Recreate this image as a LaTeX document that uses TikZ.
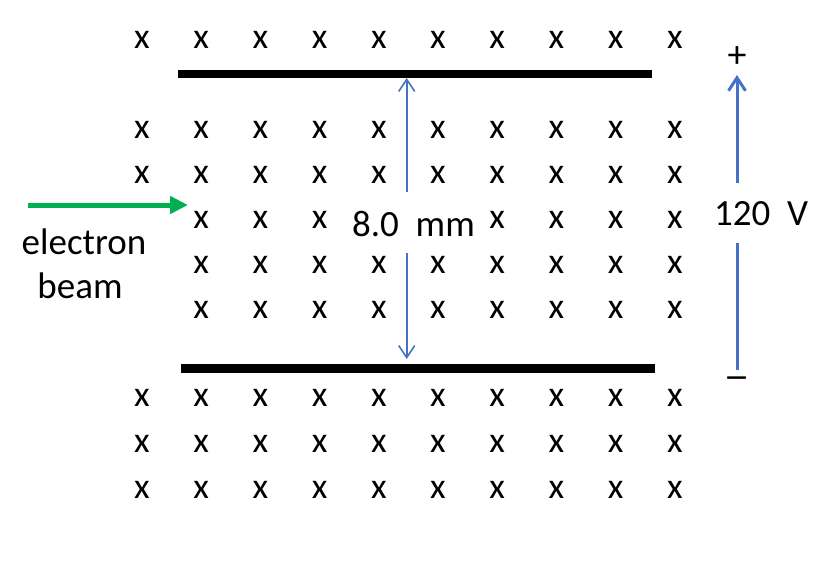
\documentclass[tikz,border=0pt]{standalone}
\usepackage{fontspec}
\setmainfont{Carlito}
\newfontfamily\symfont{DejaVu Sans}
\usetikzlibrary{arrows.meta}
\definecolor{beamgreen}{RGB}{0,176,80}
\definecolor{arrowblue}{RGB}{68,114,196}
\begin{document}
\begin{tikzpicture}[x=1pt,y=-1pt,
  markx/.style={inner sep=0pt, font=\fontsize{36}{44}\selectfont},
  lbl/.style={inner sep=0pt, font=\fontsize{37}{44}\selectfont},
  sign/.style={inner sep=0pt, font=\fontsize{38}{44}\selectfont},
  minussign/.style={inner sep=0pt, font=\symfont\fontsize{30}{36}\selectfont},
  plate/.style={line width=8.5pt},
  dimarrow/.style={arrowblue, line width=1.6pt, -{Straight Barb[length=12pt,width=16pt]}},
  voltarrow/.style={arrowblue, line width=3pt, -{Straight Barb[length=13pt,width=17pt]}},
  voltline/.style={arrowblue, line width=3pt},
  beamarrow/.style={beamgreen, line width=5pt, -{Triangle[length=18pt,width=17pt]}}
]
\useasboundingbox (0,0) rectangle (832,566);

% magnetic field markers
\foreach \y [count=\r] in {40,130,175,220,265,310,398,444,490} {
  \foreach \x [count=\c] in {142,201.2,260.4,319.6,378.8,438,497.2,556.4,615.6,674.8} {
    \pgfmathtruncatemacro\show{((\r>=4 && \r<=6 && \c==1) || (\r==4 && (\c==5 || \c==6))) ? 0 : 1}
    \ifnum\show=1 \node[markx] (x-\r-\c) at (\x,\y) {x}; \fi
  }
}

% plates
\coordinate (topL) at (178,74);
\coordinate (topR) at (652,74);
\coordinate (botL) at (181,368.5);
\coordinate (botR) at (655,368.5);
\draw[plate] (topL) -- (topR);
\draw[plate] (botL) -- (botR);

% electron beam
\coordinate (beamStart) at (28,205);
\coordinate (beamEnd) at (188,205);
\draw[beamarrow] (beamStart) -- (beamEnd);
\node[lbl, align=center, anchor=base] (beamlbl) at (84,298) {electron\\beam\hspace*{8pt}};

% separation
\node[lbl, anchor=base] (sep) at (413.5,236) {8.0\ \ mm};
\coordinate (sepUpStart) at (406.7,192);
\coordinate (sepUpEnd) at (406.7,78);
\coordinate (sepDownStart) at (406.7,253);
\coordinate (sepDownEnd) at (406.7,359);
\draw[dimarrow] (sepUpStart) -- (sepUpEnd);
\draw[dimarrow] (sepDownStart) -- (sepDownEnd);

% voltage
\node[lbl, anchor=base] (volt) at (761,225) {120\ \ V};
\coordinate (vUpStart) at (737,183);
\coordinate (vUpEnd) at (737,75);
\coordinate (vDownStart) at (737,243);
\coordinate (vDownEnd) at (737,370);
\draw[voltarrow] (vUpStart) -- (vUpEnd);
\draw[voltline] (vDownStart) -- (vDownEnd);
\node[sign] (plus) at (737,57) {+};
\node[minussign, anchor=base] (minus) at (737,387.5) {−};
\end{tikzpicture}
\end{document}
